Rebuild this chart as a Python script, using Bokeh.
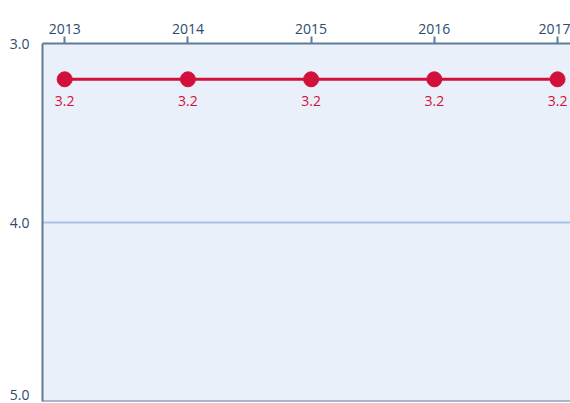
from bokeh.plotting import figure
from bokeh.models import Range1d, FixedTicker, Span, ColumnDataSource
from bokeh.core.properties import value
from bokeh.embed import file_html
from bokeh.resources import INLINE

years = [2013, 2014, 2015, 2016, 2017]
values = [3.2, 3.2, 3.2, 3.2, 3.2]
labels = ["3.2", "3.2", "3.2", "3.2", "3.2"]
y_tick_labels = ["3.0", "4.0", "5.0"]
# the bottom label sits a few pixels inside the frame in the reference
y_tick_pos = [3.0, 4.0, 4.962]

FONT = "Open Sans"
AXIS_COLOR = "#5f7d99"
TEXT_COLOR = "#2b4c6f"
RED = "#d2103c"

p = figure(width=570, height=403, output_backend="svg", toolbar_location=None,
           x_range=Range1d(2012.82, 2017.105), y_range=Range1d(5.0, 3.0),
           x_axis_location="above", y_axis_location="left",
           min_border_left=42, min_border_top=43, min_border_bottom=2,
           min_border_right=0)
p.background_fill_color = "#eaf0f9"
p.border_fill_color = "white"
p.outline_line_color = None

p.xaxis.ticker = FixedTicker(ticks=years)
p.yaxis.ticker = FixedTicker(ticks=y_tick_pos)
p.yaxis.major_label_overrides = dict(zip(y_tick_pos, y_tick_labels))
for ax in (p.xaxis[0], p.yaxis[0]):
    ax.axis_line_color = AXIS_COLOR
    ax.axis_line_width = 2
    ax.major_label_text_font = FONT
    ax.major_label_text_font_size = "14px"
    ax.major_label_text_color = TEXT_COLOR
    ax.minor_tick_line_color = None
p.xaxis.major_tick_line_color = AXIS_COLOR
p.xaxis.major_tick_line_width = 2
p.xaxis.major_tick_out = 7
p.xaxis.major_tick_in = 0
p.xaxis.major_label_standoff = 3
p.yaxis.major_tick_line_color = None
p.yaxis.major_label_standoff = 7

p.xgrid.grid_line_color = None
p.ygrid.ticker = FixedTicker(ticks=[4.0])
p.ygrid.grid_line_color = "#a8c3e6"
p.ygrid.grid_line_width = 2

p.add_layout(Span(location=5.0, dimension="width", line_color=AXIS_COLOR, line_width=2))

src = ColumnDataSource(dict(x=years, y=values, t=labels))
p.line("x", "y", source=src, line_color=RED, line_width=3)
p.scatter("x", "y", source=src, size=15, fill_color=RED, line_color=RED)
p.text("x", "y", text="t", source=src, y_offset=22, text_align="center",
       text_baseline="middle", text_color=RED, text_font=value(FONT),
       text_font_size="14px")

open("out.html", "w").write(file_html(p, INLINE))
